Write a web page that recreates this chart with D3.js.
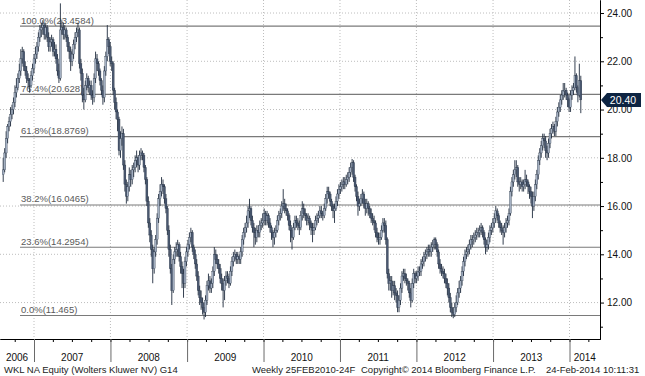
<!DOCTYPE html>
<html>
<head>
<meta charset="utf-8">
<script src="https://cdnjs.cloudflare.com/ajax/libs/d3/7.8.5/d3.min.js"></script>
<style>
body{margin:0;background:#fff}
svg{display:block}
text{font-family:"Liberation Sans",Arial,sans-serif}
</style>
</head>
<body>
<svg id="chart" width="645" height="376"></svg>
<script>
// weekly bars, first week and its open
const firstWeek = "2006-08-07"
const firstOpen = 17.3

const closes = [
17.5,18.2,18.8,19.3,19.5,19.8,20.0,20.3,20.7,20.9,
21.3,21.6,22.1,22.4,21.8,21.6,21.3,21.2,21.0,21.4,
21.7,22.1,22.3,22.6,23.0,23.3,23.4,23.5,23.1,23.4,
23.0,22.6,22.8,22.9,22.4,22.5,22.1,21.6,21.3,23.3,
23.4,23.1,23.3,23.0,22.6,22.4,22.0,22.3,22.7,23.0,
23.2,23.3,21.9,21.5,20.6,20.4,21.0,21.3,20.9,21.0,
20.6,20.5,21.3,22.1,21.9,21.6,21.2,20.8,20.5,21.6,
22.2,22.9,22.6,22.0,21.9,20.8,20.3,19.9,19.6,18.3,
18.8,19.0,17.7,16.9,16.4,16.8,17.3,17.1,17.5,17.6,
17.9,18.0,17.7,18.1,18.2,18.1,17.6,17.1,16.2,15.3,
14.8,14.2,13.4,14.1,14.6,15.5,16.3,16.6,16.9,16.8,
16.3,15.9,15.0,14.2,13.4,12.5,13.8,14.1,14.2,14.4,
13.9,13.5,13.2,12.8,13.7,14.1,14.4,14.7,14.9,14.3,
14.0,13.6,13.1,12.5,12.2,12.0,11.8,11.6,12.1,12.7,
12.9,12.6,12.8,13.3,14.0,13.8,13.6,13.4,13.0,12.8,
12.5,12.9,13.1,13.0,12.8,13.3,13.7,13.9,14.0,13.8,
13.9,13.8,14.1,14.6,14.9,15.1,15.3,15.8,15.9,15.4,
15.1,14.9,14.7,15.0,14.9,15.2,15.3,15.4,15.7,15.4,
15.6,15.3,15.1,14.9,14.7,14.9,15.0,15.4,15.6,15.7,
16.0,16.1,15.9,15.8,15.6,15.2,15.0,14.7,15.1,15.4,
15.3,15.2,15.1,15.6,15.9,15.7,15.6,15.4,15.5,15.3,
15.1,15.0,15.1,15.4,15.5,15.6,15.8,15.7,15.6,15.9,
16.3,16.6,16.5,16.2,16.0,15.8,15.9,16.2,16.5,16.7,
16.8,16.9,17.0,16.9,17.1,17.2,17.4,17.6,17.8,17.2,
16.8,16.4,16.0,16.1,16.3,16.5,16.1,15.9,16.1,15.9,
15.7,15.5,15.4,15.3,14.9,14.7,14.6,14.7,15.0,15.3,
15.2,14.6,13.2,12.8,12.9,12.5,12.7,12.4,12.3,11.8,
12.1,12.6,13.1,13.2,13.0,12.9,12.8,12.4,12.1,12.8,
13.2,13.0,13.1,13.3,13.3,13.6,13.7,13.9,14.0,14.1,
14.2,14.1,14.3,14.4,14.6,14.4,14.1,13.6,13.4,13.3,
13.2,13.0,12.8,12.6,12.2,11.8,11.6,11.5,11.8,12.0,
12.4,12.6,12.9,13.3,13.7,14.0,14.1,14.2,14.4,14.6,
14.6,14.7,14.8,14.9,14.9,15.0,15.1,14.9,14.6,14.3,
14.4,14.7,15.0,15.1,15.3,15.5,15.8,15.6,15.3,15.1,
15.0,14.9,15.1,15.3,15.4,15.7,16.6,17.0,17.3,17.5,
17.6,17.0,16.9,17.0,16.8,16.9,17.1,17.0,16.8,16.6,
16.4,16.0,16.4,16.9,17.3,17.9,18.2,18.5,18.8,18.7,
18.3,18.2,18.6,19.0,19.2,19.3,19.1,19.5,19.9,20.1,
20.4,20.6,20.8,20.8,20.6,20.4,20.1,20.6,20.8,20.9,
21.4,20.9,20.6,21.2,20.40]

const highs = [
18.0,18.4,19.1,19.4,19.7,20.1,20.2,20.5,21.0,21.3,
21.5,21.9,22.5,22.6,22.5,22.0,21.8,21.5,21.3,21.6,
21.9,22.3,22.6,22.8,23.2,23.5,23.6,23.7,23.6,23.6,
23.5,23.2,23.0,23.1,23.0,22.8,22.7,22.3,21.9,24.4,
23.7,23.6,23.5,23.4,23.1,22.8,22.6,22.5,22.9,23.2,
23.4,23.6,23.4,22.1,21.7,20.9,21.2,21.5,21.4,21.2,
21.2,20.8,21.5,22.4,22.3,22.0,21.7,21.3,21.0,21.8,
22.4,23.5,23.0,22.8,22.2,22.0,20.9,20.5,20.0,19.7,
19.1,19.3,19.2,17.9,17.1,17.0,17.6,17.5,17.7,17.8,
18.1,18.3,18.1,18.3,18.4,18.3,18.2,17.7,17.2,16.4,
15.5,15.0,14.4,14.3,14.8,15.7,16.5,16.9,17.2,17.1,
16.9,16.5,16.0,15.2,14.4,13.6,14.0,14.3,14.5,14.6,
14.5,14.1,13.7,13.4,13.9,14.3,14.6,14.9,15.1,15.0,
14.4,14.2,13.8,13.3,12.7,12.5,12.2,12.0,12.3,12.9,
13.2,13.1,13.0,13.5,14.3,14.2,14.0,13.8,13.6,13.2,
13.0,13.1,13.3,13.3,13.2,13.5,13.9,14.1,14.2,14.1,
14.1,14.0,14.3,14.8,15.1,15.3,15.6,16.0,16.3,16.0,
15.6,15.3,15.1,15.2,15.2,15.4,15.5,15.7,15.9,15.8,
15.8,15.7,15.5,15.2,15.0,15.1,15.2,15.6,15.8,15.9,
16.2,16.7,16.3,16.1,15.9,15.7,15.4,15.1,15.3,15.6,
15.6,15.5,15.4,15.8,16.2,16.1,15.9,15.7,15.7,15.6,
15.4,15.3,15.3,15.6,15.7,15.8,16.0,16.0,15.8,16.1,
16.5,16.8,16.8,16.6,16.3,16.1,16.1,16.4,16.7,16.9,
17.0,17.1,17.2,17.2,17.3,17.4,17.6,17.8,17.95,17.9,
17.3,16.9,16.6,16.3,16.5,16.7,16.6,16.3,16.3,16.2,
16.0,15.9,15.7,15.6,15.4,15.1,14.9,14.9,15.2,15.5,
15.5,15.4,14.7,13.4,13.1,13.1,12.9,12.9,12.6,12.5,
12.3,12.8,13.3,13.4,13.4,13.2,13.0,12.9,12.6,13.0,
13.4,13.3,13.3,13.5,13.5,13.8,13.9,14.1,14.2,14.3,
14.4,14.4,14.5,14.6,14.7,14.7,14.5,14.2,13.8,13.6,
13.5,13.4,13.2,13.0,12.8,12.4,12.0,11.8,12.0,12.3,
12.6,12.9,13.1,13.5,13.9,14.2,14.3,14.4,14.6,14.8,
14.8,14.9,15.0,15.1,15.1,15.2,15.3,15.2,15.0,14.7,
14.6,14.9,15.2,15.3,15.5,15.7,16.0,15.9,15.7,15.4,
15.3,15.2,15.3,15.5,15.6,15.9,16.8,17.2,17.5,17.9,
17.9,17.7,17.2,17.2,17.1,17.1,17.5,17.3,17.1,16.9,
16.8,16.6,16.6,17.1,17.5,18.1,18.4,18.7,19.0,19.0,
18.9,18.5,18.8,19.2,19.4,19.5,19.4,19.7,20.1,20.3,
20.6,20.8,21.1,21.1,20.9,20.7,20.5,20.8,21.0,21.1,
22.2,21.5,21.0,21.9,21.4]

const lows = [
17.0,17.4,18.0,18.6,19.1,19.3,19.6,19.8,20.1,20.5,
20.8,21.1,21.4,21.9,21.6,21.4,21.1,20.9,20.7,20.9,
21.2,21.5,21.9,22.1,22.4,22.8,23.0,23.1,22.9,22.9,
22.8,22.4,22.4,22.6,22.2,22.2,21.9,21.4,21.1,21.2,
23.1,22.9,22.9,22.8,22.4,22.1,21.6,21.8,22.1,22.5,
22.8,23.0,21.7,21.2,20.3,20.0,20.3,20.8,20.7,20.6,
20.4,20.2,20.3,21.1,21.6,21.4,21.0,20.6,20.2,20.3,
21.4,22.0,22.3,21.8,21.6,20.6,20.0,19.6,19.1,18.1,
18.0,18.5,17.5,16.6,16.1,16.2,16.6,16.8,16.9,17.2,
17.4,17.6,17.4,17.5,17.9,17.9,17.4,16.9,16.0,15.1,
14.5,13.9,12.8,13.2,13.9,14.4,15.3,16.0,16.4,16.5,
16.1,15.7,14.8,13.9,13.2,11.9,12.4,13.6,13.9,13.9,
13.7,13.2,12.6,12.2,12.6,13.5,13.9,14.2,14.5,14.1,
13.8,13.4,12.9,12.3,11.9,11.7,11.5,11.3,11.4,11.9,
12.5,12.4,12.4,12.6,13.1,13.6,13.4,13.2,12.8,12.5,
11.8,12.1,12.7,12.8,12.6,12.7,13.1,13.5,13.7,13.6,
13.6,13.6,13.6,13.9,14.4,14.7,14.9,15.1,15.5,15.2,
14.9,14.3,14.4,14.5,14.7,14.7,15.0,15.1,15.2,15.2,
15.2,15.1,14.9,14.6,14.3,14.4,14.7,14.9,15.2,15.4,
15.5,15.8,15.7,15.6,15.4,15.0,14.5,14.2,14.6,15.0,
15.1,15.0,14.8,15.0,15.4,15.5,15.4,15.2,15.2,15.0,
14.8,14.5,14.8,15.0,15.2,15.3,15.5,15.5,15.4,15.5,
15.8,16.1,16.3,16.0,15.8,15.5,15.3,15.8,16.0,16.3,
16.5,16.6,16.7,16.7,16.8,16.9,17.0,17.2,17.3,17.0,
16.6,16.2,15.6,15.8,16.0,16.1,15.9,15.6,15.7,15.6,
15.5,15.3,15.2,15.0,14.7,14.5,14.4,14.4,14.6,14.9,
14.9,14.4,13.0,12.5,12.5,12.2,12.3,12.1,12.0,11.6,
11.6,11.9,12.4,12.9,12.8,12.7,12.5,12.2,11.8,12.0,
12.6,12.8,12.8,12.9,13.1,13.1,13.4,13.5,13.7,13.8,
13.9,13.9,13.9,14.1,14.2,14.2,13.9,13.4,13.2,13.1,
13.0,12.8,12.6,12.3,12.0,11.6,11.4,11.35,11.4,11.6,
11.9,12.2,12.4,12.7,13.1,13.5,13.8,13.9,14.0,14.2,
14.3,14.4,14.5,14.6,14.7,14.7,14.8,14.7,14.4,14.0,
14.1,14.2,14.5,14.8,14.9,15.1,15.3,15.4,15.1,14.9,
14.8,14.4,14.7,14.9,15.1,15.2,15.6,16.4,16.8,17.1,
17.2,16.8,16.6,16.7,16.6,16.6,16.7,16.8,16.5,16.3,
16.1,15.5,15.8,16.2,16.7,17.1,17.7,18.0,18.3,18.4,
18.0,17.9,18.0,18.4,18.8,19.0,18.9,18.9,19.3,19.7,
19.9,20.2,20.4,20.5,20.4,20.1,19.9,19.9,20.4,20.6,
20.8,20.7,20.3,20.5,19.85]

const lastPrice = 20.40
const fibPct = [0, 23.6, 38.2, 61.8, 76.4, 100]
const fibValue = [11.465, 14.2954, 16.0465, 18.8769, 20.628, 23.4584]
const priceTicks = [12, 14, 16, 18, 20, 22, 24]
const minorTicks = [11, 13, 15, 17, 19, 21, 23]
const yearLabels = ["2006", "2007", "2008", "2009", "2010", "2011", "2012", "2013", "2014"]
const footer = ["WKL NA Equity (Wolters Kluwer NV) G14", "Weekly 25FEB2010-24F",
    "Copyright\u00a9 2014 Bloomberg Finance L.P.", "24-Feb-2014 10:11:31"]

const plotDim = {width: 600, height: 339}
const svg = d3.select("#chart")

const yScale = d3.scaleLinear().domain([10.49, 24.54]).range([plotDim.height, 0])
const xScale = d3.scaleTime()
    .domain([new Date(2007, 0, 1), new Date(2014, 0, 1)])
    .range([34, 569.5])
// same mapping, stretched over the whole plot width for the axis
const xAxisScale = xScale.copy()
    .domain([xScale.invert(0), xScale.invert(plotDim.width)])
    .range([0, plotDim.width])

const start = d3.timeParse("%Y-%m-%d")(firstWeek)
const bars = closes.map((c, i) => ({
    date: d3.timeDay.offset(start, 7 * i),
    open: i == 0 ? firstOpen : closes[i - 1],
    close: c,
    high: highs[i],
    low: lows[i]
}))

// dotted grid
const grid = svg.append("g")
grid.selectAll(".hgrid").data(priceTicks).enter().append("line")
    .attr("x1", 0).attr("x2", plotDim.width)
    .attr("y1", d => yScale(d)).attr("y2", d => yScale(d))
    .attr("stroke", "#bdbdbd").attr("stroke-dasharray", "1,2")
const years = d3.timeYear.range(new Date(2007, 0, 1), new Date(2014, 0, 2))
grid.selectAll(".vgrid").data(years).enter().append("line")
    .attr("x1", d => xScale(d)).attr("x2", d => xScale(d))
    .attr("y1", 0).attr("y2", plotDim.height)
    .attr("stroke", "#bdbdbd").attr("stroke-dasharray", "1,2")

// fibonacci retracement levels
const fib = svg.append("g")
fib.selectAll("line").data(fibValue).enter().append("line")
    .attr("x1", 20).attr("x2", plotDim.width)
    .attr("y1", d => yScale(d)).attr("y2", d => yScale(d))
    .attr("stroke", "#7a7a7a").attr("stroke-width", 1.1)
fib.selectAll("text").data(fibValue).enter().append("text")
    .attr("x", 21).attr("y", d => yScale(d) - 2.5)
    .attr("font-size", "9.5px").attr("fill", "#5a5a5a")
    .text((d, i) => fibPct[i].toFixed(1) + "%(" + d + ")")

// candles
const candles = svg.append("g").selectAll("g").data(bars).enter().append("g")
candles.append("line")
    .attr("x1", d => xScale(d.date)).attr("x2", d => xScale(d.date))
    .attr("y1", d => yScale(d.high)).attr("y2", d => yScale(d.low))
    .attr("stroke", "#1f2b3d").attr("stroke-width", 0.9)
candles.append("rect")
    .attr("x", d => xScale(d.date) - 1)
    .attr("width", 2)
    .attr("y", d => yScale(Math.max(d.open, d.close)))
    .attr("height", d => Math.max(1, Math.abs(yScale(d.open) - yScale(d.close))))
    .attr("fill", d => d.close >= d.open ? "#a3afc1" : "#4a5870")
    .attr("stroke", "#1f2b3d").attr("stroke-width", 0.3)

// right price axis
const yAxis = d3.axisRight(yScale).tickValues(priceTicks).tickSize(4).tickSizeOuter(0)
    .tickPadding(3).tickFormat(d3.format(".2f"))
const yMinor = d3.axisRight(yScale).tickValues(minorTicks).tickSize(3).tickSizeOuter(0).tickFormat("")
const yAxisG = svg.append("g").attr("transform", "translate(" + plotDim.width + ",0)").call(yAxis)
svg.append("g").attr("transform", "translate(" + plotDim.width + ",0)").call(yMinor)
yAxisG.selectAll("text").attr("font-size", "10px").attr("fill", "#111").attr("font-family", null)

// bottom time axis
const xMinor = d3.axisBottom(xAxisScale).ticks(d3.timeMonth.every(3)).tickSize(3).tickSizeOuter(0).tickFormat("")
const xMajor = d3.axisBottom(xAxisScale).ticks(d3.timeYear.every(1)).tickSize(23).tickSizeOuter(0).tickFormat("")
svg.append("g").attr("transform", "translate(0," + plotDim.height + ")").call(xMinor)
const xMajorG = svg.append("g").attr("transform", "translate(0," + plotDim.height + ")").call(xMajor)
xMajorG.selectAll(".tick line").attr("stroke", "#6a6a6a")
xMajorG.select(".domain").attr("stroke", "#000")

svg.append("g").selectAll("text").data(yearLabels).enter().append("text")
    .attr("x", d => {
        const a = Math.max(0, xScale(new Date(+d, 0, 1)))
        const b = Math.min(plotDim.width, xScale(new Date(+d + 1, 0, 1)))
        return (a + b) / 2
    })
    .attr("y", 361)
    .attr("text-anchor", "middle").attr("font-size", "10px").attr("fill", "#111")
    .text(d => d)

// last price tag
const ly = yScale(lastPrice)
svg.append("path")
    .attr("d", "M601," + ly + "L607," + (ly - 7) + "H641V" + (ly + 7) + "H607Z")
    .attr("fill", "#0d2442")
svg.append("text")
    .attr("x", 623).attr("y", ly + 3.8)
    .attr("text-anchor", "middle").attr("font-size", "10.5px").attr("fill", "#fff")
    .text(lastPrice.toFixed(2))

// footer
const footerX = [4, 252, 361, 546]
svg.append("g").selectAll("text").data(footer).enter().append("text")
    .attr("x", (d, i) => footerX[i]).attr("y", 373)
    .attr("font-size", "9.5px").attr("fill", "#222")
    .text(d => d)
</script>
</body>
</html>
